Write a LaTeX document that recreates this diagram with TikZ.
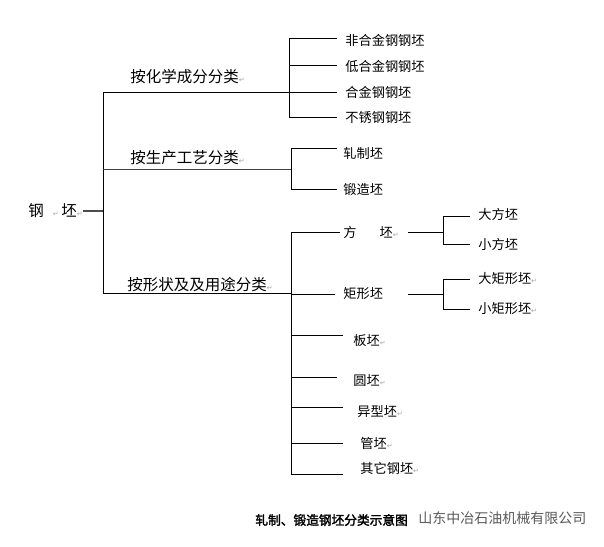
\documentclass[tikz,border=0pt]{standalone}
\usepackage{fontspec}
\newfontfamily\cjk{Noto Sans CJK SC}
\newfontfamily\cjkb[FakeBold=2]{Noto Sans CJK SC}
\newfontfamily\dv{DejaVu Sans}
\newcommand\rt{{\dv\fontsize{7}{7}\selectfont\color{gray!70}↵}}
\begin{document}
\begin{tikzpicture}[x=1pt,y=-1pt,line width=0.8pt,
  item/.style={anchor=west,inner sep=0pt,font=\cjk\fontsize{13.2}{14}\selectfont},
  cat/.style={anchor=west,inner sep=0pt,font=\cjk\fontsize{15.5}{16}\selectfont},
  conn/.style={draw=black,line width=0.8pt}]
\useasboundingbox[fill=white] (0,0) rectangle (604,546);

% root
\node[cat] (root) at (28,211) {钢\hspace{9pt}\rt\,坯\rt};
\coordinate (sp) at (103,211);
\coordinate (s1) at (103,92);
\coordinate (s2) at (103,169);
\coordinate (s3) at (103,293);
\draw[conn,line width=1.4pt,draw=black!70] (root.east) -- (sp);
\draw[conn] (s1) -- (s3);

% category labels
\node[cat] (cat1) at (130,77) {按化学成分分类\rt};
\node[cat] (cat2) at (130,158) {按生产工艺分类\rt};
\node[cat] (cat3) at (127,285) {按形状及及用途分类\rt};

% branch 1
\coordinate (b1) at (289,92);
\draw[conn] (s1) -- (b1);
\coordinate (c1) at (289,38);
\coordinate (c4) at (289,117);
\draw[conn] (c1) -- (c4);
\node[item] (i11) at (345,40) {非合金钢钢坯};
\node[item] (i12) at (345,66) {低合金钢钢坯};
\node[item] (i13) at (345,92) {合金钢钢坯};
\node[item] (i14) at (345,118) {不锈钢钢坯};
\draw[conn] (c1) -- ++(48,0);
\draw[conn] (289,65) -- ++(48,0);
\draw[conn] (b1) -- ++(48,0);
\draw[conn] (c4) -- ++(48,0);

% branch 2
\coordinate (b2) at (291,169);
\draw[conn,draw=black!75] (s2) -- (b2);
\coordinate (d1) at (291,148);
\coordinate (d2) at (291,189);
\draw[conn] (d1) -- (d2);
\node[item] (i21) at (343,153) {轧制坯};
\node[item] (i22) at (343,189) {锻造坯};
\draw[conn] (d1) -- ++(46,0);
\draw[conn] (d2) -- ++(46,0);

% branch 3
\coordinate (b3) at (291,293);
\draw[conn] (s3) -- (b3);
\coordinate (e1) at (291,232);
\coordinate (e7) at (291,474);
\draw[conn] (e1) -- (e7);
\node[item] (i31) at (343,232) {方\hspace{23pt}坯\rt};
\node[item] (i32) at (343,294) {矩形坯};
\node[item] (i33) at (353,340) {板坯\rt};
\node[item] (i34) at (353,381) {圆坯\rt};
\node[item] (i35) at (357,412) {异型坯\rt};
\node[item] (i36) at (360,443) {管坯\rt};
\node[item] (i37) at (360,468) {其它钢坯\rt};
\draw[conn] (e1) -- (340,232);
\draw[conn] (291,294) -- (335,294);
\draw[conn] (291,335) -- (343,335);
\draw[conn] (291,377) -- (337,377);
\draw[conn] (291,407) -- (343,407);
\draw[conn] (291,443) -- (343,443);
\draw[conn] (e7) -- (343,474);

% sub-branches
\coordinate (f0) at (408,232);
\coordinate (f1) at (443,232);
\coordinate (f2) at (443,216);
\coordinate (f3) at (443,244);
\draw[conn] (f0) -- (f1);
\draw[conn] (f2) -- (f3);
\node[item] (i41) at (478,214) {大方坯};
\node[item] (i42) at (478,244) {小方坯};
\draw[conn] (f2) -- (470,216);
\draw[conn] (f3) -- (470,244);

\coordinate (g0) at (408,294);
\coordinate (g1) at (443,294);
\coordinate (g2) at (443,279);
\coordinate (g3) at (443,309);
\draw[conn] (g0) -- (g1);
\draw[conn] (g2) -- (g3);
\node[item] (i51) at (478,279) {大矩形坯\rt};
\node[item] (i52) at (478,309) {小矩形坯\rt};
\draw[conn] (g2) -- (470,279);
\draw[conn] (g3) -- (470,309);

% caption and watermark
\node[anchor=west,inner sep=0pt,font=\cjkb\fontsize{12.7}{13}\selectfont] (cap) at (255,520) {轧制、锻造钢坯分类示意图};
\node[anchor=west,inner sep=0pt,font=\cjk\fontsize{14}{15}\selectfont,text=black!65] (wm) at (418,518) {山东中冶石油机械有限公司};
\end{tikzpicture}
\end{document}
